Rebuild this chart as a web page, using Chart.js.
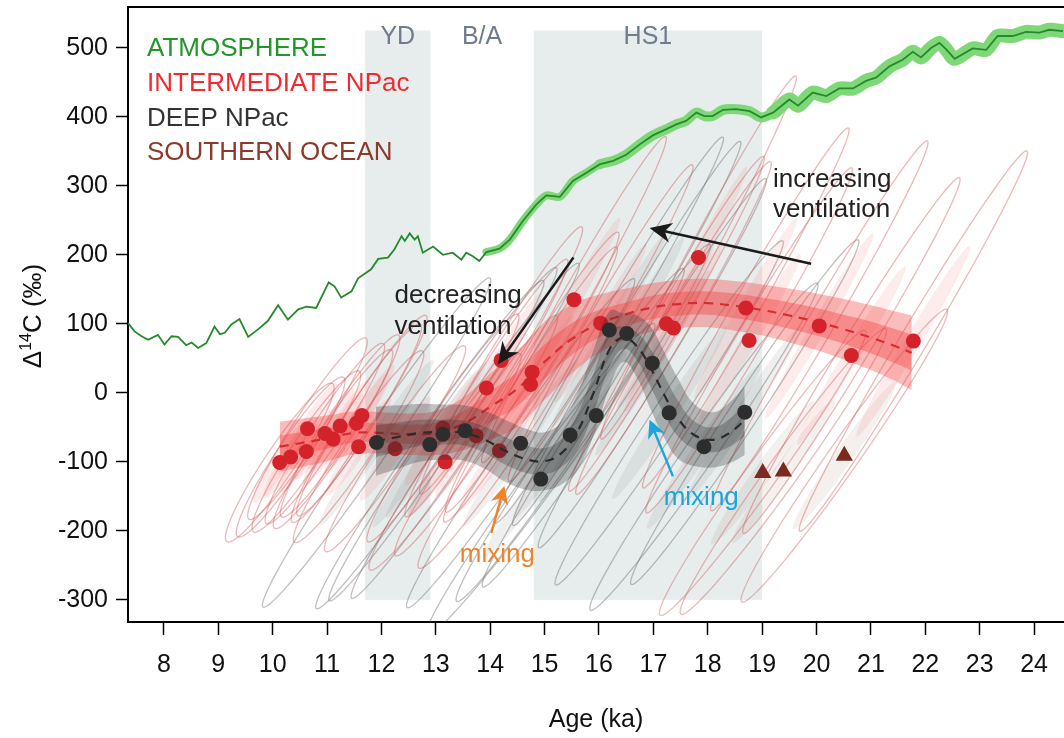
<!DOCTYPE html>
<html lang="en">
<head>
<meta charset="UTF-8">
<title>Delta 14C, atmosphere and North Pacific</title>
<script src="https://cdn.jsdelivr.net/npm/chart.js"></script>
<style>
    html, body { margin: 0; padding: 0; background: #fff; overflow: hidden; }
    canvas { display: block; }
</style>
</head>
<body>
<canvas id="d14cChart" width="1064" height="738"></canvas>
<script>
// ---- values (age in ka, D14C in permil) ----
const atmAge = [7.34, 7.46, 7.59, 7.71, 7.89, 8.01, 8.14, 8.26, 8.41, 8.51, 8.63, 8.78, 8.93, 9.03, 9.12, 9.24, 9.39, 9.55, 9.73, 9.91,
    10.10, 10.28, 10.47, 10.62, 10.80, 11.03, 11.14, 11.26, 11.45, 11.57, 11.81, 11.94, 12.12, 12.24, 12.37, 12.43, 12.52, 12.61, 12.67, 12.76,
    12.95, 13.13, 13.31, 13.47, 13.56, 13.68, 13.80, 13.93, 14.17, 14.36, 14.60, 14.85, 15.03, 15.28, 15.52, 15.77, 16.01, 16.26, 16.50, 16.75,
    16.99, 17.24, 17.42, 17.60, 17.79, 17.94, 18.09, 18.28, 18.52, 18.77, 18.98, 19.20, 19.50, 19.66, 19.93, 20.18, 20.42, 20.67, 20.91, 21.10,
    21.34, 21.59, 21.77, 21.92, 22.11, 22.26, 22.38, 22.54, 22.87, 23.12, 23.33, 23.61, 23.85, 24.10, 24.28, 24.53];
const atmD14C = [101, 89, 82, 77, 84, 70, 82, 81, 69, 73, 65, 72, 96, 85, 87, 99, 107, 81, 92, 104,
    127, 106, 121, 125, 123, 160, 154, 138, 147, 166, 179, 194, 196, 208, 227, 220, 231, 222, 227, 203,
    212, 200, 203, 193, 203, 198, 191, 204, 209, 222, 249, 273, 286, 284, 307, 319, 331, 336, 345, 360,
    373, 382, 389, 394, 406, 401, 401, 410, 411, 408, 399, 406, 425, 416, 435, 430, 441, 441, 452, 457,
    473, 483, 494, 486, 500, 507, 498, 484, 499, 497, 517, 517, 523, 522, 526, 524];

const intAge = [10.13, 10.33, 10.62, 10.64, 10.96, 11.11, 11.24, 11.54, 11.58, 11.64, 12.25, 13.13, 13.17, 13.74, 13.93,
    14.17, 14.20, 14.74, 14.77, 15.54, 16.03, 17.24, 17.37, 17.83, 18.70, 18.76, 20.05, 20.64, 21.78];
const intD14C = [-101, -93, -85, -52, -59, -67, -48, -44, -78, -33, -81, -51, -100, -62, 7,
    -84, 47, 12, 30, 135, 101, 100, 94, 196, 123, 76, 97, 54, 75];
const intAgeSd = [0.5, 0.5, 0.5, 0.55, 0.55, 0.55, 0.55, 0.6, 0.6, 0.6, 0.65, 0.7, 0.7, 0.75, 0.75,
    0.75, 0.75, 0.8, 0.8, 0.85, 0.85, 0.9, 0.9, 0.9, 0.95, 0.95, 1.0, 1.0, 1.05];

const deepAge = [11.91, 12.89, 13.13, 13.54, 14.56, 14.93, 15.47, 15.95, 16.19, 16.51, 16.98, 17.29, 17.93, 18.68];
const deepD14C = [-72, -75, -60, -55, -73, -125, -61, -33, 91, 86, 43, -29, -78, -28];
const deepAgeSd = [1.05, 1.05, 1.05, 1.05, 1.05, 1.05, 1.05, 1.05, 1.05, 1.05, 1.05, 1.05, 1.05, 1.05];

const soAge = [19.01, 19.39, 20.51];
const soD14C = [-116, -114, -91];
const soAgeSd = [0.95, 0.95, 0.95];

const intFitAge = [10.13, 10.5, 11.0, 11.5, 12.0, 12.5, 13.0, 13.5, 14.0, 14.5, 15.0, 15.5, 16.0, 16.5, 17.0, 17.5, 18.0, 18.5, 19.0, 19.5, 20.0, 20.5, 21.0, 21.5, 21.75];
const intFitMean = [-78, -73, -66, -58, -58, -60, -58, -45, -20, 6, 45, 78, 100, 114, 124, 129, 130, 126, 120, 112, 103, 92, 80, 66, 58];
const intFitOuter = [36, 35, 33, 31, 30, 30, 32, 38, 48, 55, 55, 50, 42, 37, 35, 35, 35, 36, 37, 39, 41, 44, 47, 51, 54];
const intFitInner = [16, 16, 15, 14, 14, 14, 15, 18, 22, 25, 25, 23, 20, 17, 17, 17, 17, 18, 18, 19, 20, 21, 23, 25, 26];

const deepFitAge = [11.9, 12.3, 12.7, 13.1, 13.5, 13.9, 14.3, 14.7, 15.0, 15.3, 15.6, 15.9, 16.2, 16.45, 16.7, 16.95, 17.2, 17.45, 17.75, 18.1, 18.4, 18.68];
const deepFitMean = [-70, -64, -58, -57, -58, -68, -85, -97, -99, -88, -57, 0, 64, 80, 67, 36, -3, -37, -61, -68, -58, -40];
const deepFitOuter = [50, 46, 42, 40, 40, 42, 45, 44, 42, 45, 55, 62, 55, 35, 45, 60, 62, 58, 45, 40, 44, 50];
const deepFitInner = [23, 21, 19, 18, 18, 19, 20, 20, 19, 20, 25, 28, 25, 16, 20, 27, 28, 26, 20, 18, 20, 23];

const periodLabels = ['YD', 'B/A', 'HS1'];
const periodStart = [11.7, 12.9, 14.8];
const periodEnd = [12.9, 14.8, 19.0];
const periodShaded = [true, false, true];

const xTicks = [8, 9, 10, 11, 12, 13, 14, 15, 16, 17, 18, 19, 20, 21, 22, 23, 24];
const yTicks = [-300, -200, -100, 0, 100, 200, 300, 400, 500];

const legendLabels = ['ATMOSPHERE', 'INTERMEDIATE NPac', 'DEEP NPac', 'SOUTHERN OCEAN'];
const legendColors = ['#23962a', '#ef2b2f', '#333333', '#8b3a2b'];

// annotation arrows, in data units
const arrowFromAge = [15.53, 19.90, 14.02, 17.36];
const arrowFromD = [196, 187, -203, -121];
const arrowToAge = [14.14, 16.93, 14.26, 16.93];
const arrowToD = [41, 239, -135, -39];
const arrowColors = ['#1a1a1a', '#1a1a1a', '#f0832a', '#1ba5dd'];

const FONT = '"Liberation Sans", Arial, Helvetica, sans-serif';
Chart.defaults.font.family = FONT;

const xy = (xs, ys) => xs.map((x, i) => ({ x: x, y: ys[i] }));
const edge = (xs, mid, half, sign) => xs.map((x, i) => ({ x: x, y: mid[i] + sign * half[i] }));

// tilted error ellipses: age error moves along the calibration line (slope ~ (1000+D)/8.267 per ka)
function drawEllipses(ctx, xs, ys, ages, d14c, sds, sdD, k, fill, stroke) {
    for (let j = 0; j < ages.length; j++) {
        const slope = (1000 + d14c[j]) / 8.267;
        ctx.beginPath();
        for (let i = 0; i <= 72; i++) {
            const t = i / 72 * Math.PI * 2;
            const a = ages[j] + k * sds[j] * Math.cos(t);
            const d = d14c[j] + k * (sds[j] * slope * Math.cos(t) + sdD * Math.sin(t));
            const px = xs.getPixelForValue(a), py = ys.getPixelForValue(d);
            if (i === 0) ctx.moveTo(px, py); else ctx.lineTo(px, py);
        }
        ctx.closePath();
        if (fill) { ctx.fillStyle = fill; ctx.fill(); }
        if (stroke) { ctx.strokeStyle = stroke; ctx.lineWidth = 1.3; ctx.stroke(); }
    }
}

const backdrop = {
    id: 'backdrop',
    beforeDatasetsDraw(chart) {
        const { ctx, chartArea: a, scales: { x, y } } = chart;
        ctx.save();
        ctx.beginPath();
        ctx.rect(a.left, a.top, a.right - a.left, a.bottom - a.top);
        ctx.clip();
        // climate periods
        ctx.fillStyle = '#e7eded';
        periodStart.forEach((s, i) => {
            if (!periodShaded[i]) return;
            const x0 = x.getPixelForValue(s), x1 = x.getPixelForValue(periodEnd[i]);
            const y0 = y.getPixelForValue(525), y1 = y.getPixelForValue(-300);
            ctx.fillRect(x0, y0, x1 - x0, y1 - y0);
        });
        ctx.font = '25px ' + FONT;
        ctx.fillStyle = '#6f7c8c';
        ctx.textAlign = 'center';
        ctx.textBaseline = 'alphabetic';
        periodLabels.forEach((lab, i) => {
            ctx.fillText(lab, x.getPixelForValue((periodStart[i] + periodEnd[i]) / 2), y.getPixelForValue(505));
        });
        // probability ellipses
        drawEllipses(ctx, x, y, deepAge, deepD14C, deepAgeSd, 22, 1, 'rgba(80,80,80,0.09)', null);
        drawEllipses(ctx, x, y, soAge, soD14C, soAgeSd, 22, 1, 'rgba(150,105,75,0.10)', null);
        drawEllipses(ctx, x, y, intAge, intD14C, intAgeSd, 22, 1, 'rgba(250,110,110,0.14)', null);
        drawEllipses(ctx, x, y, deepAge, deepD14C, deepAgeSd, 19, 2, null, 'rgba(105,105,105,0.42)');
        drawEllipses(ctx, x, y, soAge, soD14C, soAgeSd, 19, 2, null, 'rgba(205,95,95,0.42)');
        drawEllipses(ctx, x, y, intAge, intD14C, intAgeSd, 19, 2, null, 'rgba(210,85,85,0.42)');
        ctx.restore();
    }
};

function arrow(ctx, x0, y0, x1, y1, color, hl, hw) {
    const ang = Math.atan2(y1 - y0, x1 - x0);
    ctx.strokeStyle = color;
    ctx.lineWidth = 2.4;
    ctx.beginPath();
    ctx.moveTo(x0, y0);
    ctx.lineTo(x1 - Math.cos(ang) * hl * 0.6, y1 - Math.sin(ang) * hl * 0.6);
    ctx.stroke();
    ctx.save();
    ctx.translate(x1, y1);
    ctx.rotate(ang);
    ctx.beginPath();
    ctx.moveTo(0, 0);
    ctx.lineTo(-hl, -hw);
    ctx.lineTo(-hl * 0.7, 0);
    ctx.lineTo(-hl, hw);
    ctx.closePath();
    ctx.fillStyle = color;
    ctx.fill();
    ctx.restore();
}

const annotations = {
    id: 'annotations',
    afterDatasetsDraw(chart) {
        const { ctx, chartArea: a, scales: { x, y } } = chart;
        ctx.save();
        // top frame line
        ctx.strokeStyle = '#000';
        ctx.lineWidth = 2;
        ctx.beginPath();
        ctx.moveTo(a.left - 1, a.top);
        ctx.lineTo(a.right, a.top);
        ctx.stroke();

        arrowFromAge.forEach((s, i) => {
            const big = i < 2;
            arrow(ctx, x.getPixelForValue(s), y.getPixelForValue(arrowFromD[i]),
                x.getPixelForValue(arrowToAge[i]), y.getPixelForValue(arrowToD[i]),
                arrowColors[i], big ? 22 : 18, big ? 10 : 9);
        });

        ctx.font = '26px ' + FONT;
        ctx.textBaseline = 'middle';
        ctx.textAlign = 'left';
        ctx.fillStyle = '#222';
        ctx.fillText('decreasing', x.getPixelForValue(12.24), y.getPixelForValue(140));
        ctx.fillText('ventilation', x.getPixelForValue(12.24), y.getPixelForValue(96));
        ctx.fillText('increasing', x.getPixelForValue(19.2), y.getPixelForValue(308));
        ctx.fillText('ventilation', x.getPixelForValue(19.2), y.getPixelForValue(265));
        ctx.textAlign = 'center';
        ctx.textBaseline = 'alphabetic';
        ctx.fillStyle = '#f0832a';
        ctx.fillText('mixing', x.getPixelForValue(14.13), y.getPixelForValue(-245));
        ctx.fillStyle = '#1ba5dd';
        ctx.fillText('mixing', x.getPixelForValue(17.88), y.getPixelForValue(-162));

        // legend block
        ctx.textAlign = 'left';
        ctx.textBaseline = 'middle';
        legendLabels.forEach((lab, i) => {
            ctx.fillStyle = legendColors[i];
            ctx.fillText(lab, a.left + 19, a.top + 42 + i * 34.7);
        });

        // y title with superscript
        ctx.translate(31, 316);
        ctx.rotate(-Math.PI / 2);
        ctx.fillStyle = '#111';
        ctx.textBaseline = 'alphabetic';
        const big = '26px ' + FONT, small = '16px ' + FONT;
        ctx.font = big;
        const w1 = ctx.measureText('\u0394').width, w3 = ctx.measureText('C (\u2030)').width;
        ctx.font = small;
        const w2 = ctx.measureText('14').width;
        let cx = -(w1 + w2 + w3) / 2;
        ctx.font = big;
        ctx.fillText('\u0394', cx, 10);
        cx += w1;
        ctx.font = small;
        ctx.fillText('14', cx, 0);
        cx += w2;
        ctx.font = big;
        ctx.fillText('C (\u2030)', cx, 10);
        ctx.restore();
    }
};

const atmBandAge = atmAge.filter(a => a >= 13.9);
const atmBandD = atmD14C.filter((d, i) => atmAge[i] >= 13.9);

const datasets = [
    // atmosphere
    { data: xy(atmAge, atmD14C), borderColor: '#268a2c', borderWidth: 1.8, pointRadius: 0, tension: 0, order: 0 },
    { data: xy(atmBandAge, atmBandD), borderColor: '#7fd877', pointRadius: 0, tension: 0.3,
      borderJoinStyle: 'round', borderCapStyle: 'round', order: 1,
      segment: { borderWidth: c => c.p0.parsed.x < 16 ? 8 : (c.p0.parsed.x < 19 ? 10 : 14) } },
    // deep NPac
    { data: xy(deepAge, deepD14C), showLine: false, pointRadius: 7.5, pointHoverRadius: 7.5, backgroundColor: '#2d2d2d', borderWidth: 0, order: 2 },
    { data: xy(deepFitAge, deepFitMean), borderColor: '#2b2b2b', borderWidth: 2.2, borderDash: [9, 7], pointRadius: 0, tension: 0.4, order: 3 },
    { data: edge(deepFitAge, deepFitMean, deepFitInner, -1), borderWidth: 0, pointRadius: 0, tension: 0.4, order: 5 },
    { data: edge(deepFitAge, deepFitMean, deepFitInner, 1), borderWidth: 0, pointRadius: 0, tension: 0.4, fill: '-1', backgroundColor: 'rgba(40,40,40,0.28)', order: 4 },
    { data: edge(deepFitAge, deepFitMean, deepFitOuter, -1), borderWidth: 0, pointRadius: 0, tension: 0.4, order: 7 },
    { data: edge(deepFitAge, deepFitMean, deepFitOuter, 1), borderWidth: 0, pointRadius: 0, tension: 0.4, fill: '-1', backgroundColor: 'rgba(40,40,40,0.28)', order: 6 },
    // southern ocean
    { data: xy(soAge, soD14C), showLine: false, pointStyle: 'triangle', pointRadius: 10, pointHoverRadius: 10, backgroundColor: '#7a2a1e', borderWidth: 0, order: 8 },
    // intermediate NPac
    { data: xy(intAge, intD14C), showLine: false, pointRadius: 7.5, pointHoverRadius: 7.5, backgroundColor: '#d3222a', borderWidth: 0, order: 9 },
    { data: xy(intFitAge, intFitMean), borderColor: 'rgba(212,36,40,0.9)', borderWidth: 2.2, borderDash: [9, 7], pointRadius: 0, tension: 0.4, order: 10 },
    { data: edge(intFitAge, intFitMean, intFitInner, -1), borderWidth: 0, pointRadius: 0, tension: 0.4, order: 12 },
    { data: edge(intFitAge, intFitMean, intFitInner, 1), borderWidth: 0, pointRadius: 0, tension: 0.4, fill: '-1', backgroundColor: 'rgba(242,60,60,0.38)', order: 11 },
    { data: edge(intFitAge, intFitMean, intFitOuter, -1), borderWidth: 0, pointRadius: 0, tension: 0.4, order: 14 },
    { data: edge(intFitAge, intFitMean, intFitOuter, 1), borderWidth: 0, pointRadius: 0, tension: 0.4, fill: '-1', backgroundColor: 'rgba(245,70,70,0.36)', order: 13 }
];

const ctx = document.getElementById('d14cChart').getContext('2d');
const d14cChart = new Chart(ctx, {
    type: 'line',
    data: { datasets: datasets },
    options: {
        responsive: false,
        animation: false,
        events: [],
        layout: { autoPadding: false, padding: { top: 7, right: 0, bottom: 0, left: 0 } },
        plugins: { legend: { display: false }, tooltip: { enabled: false } },
        scales: {
            x: {
                type: 'linear',
                min: 7.34,
                max: 24.55,
                afterFit: s => { s.height = 116; s.paddingLeft = 0; s.paddingRight = 0; },
                afterBuildTicks: s => { s.ticks = xTicks.map(v => ({ value: v })); },
                grid: { drawOnChartArea: false, tickLength: 13, tickColor: '#000', tickWidth: 1.5 },
                border: { display: true, color: '#000', width: 2 },
                ticks: { color: '#111', font: { size: 25 }, padding: 15, maxRotation: 0, autoSkip: false, callback: v => String(v) },
                title: { display: true, text: 'Age (ka)', color: '#111', font: { size: 25 }, padding: { top: 0, bottom: 3 } }
            },
            y: {
                type: 'linear',
                min: -332,
                max: 559,
                afterFit: s => { s.width = 128; s.paddingTop = 0; s.paddingBottom = 0; },
                afterBuildTicks: s => { s.ticks = yTicks.map(v => ({ value: v })); },
                grid: { drawOnChartArea: false, tickLength: 12, tickColor: '#000', tickWidth: 1.5 },
                border: { display: true, color: '#000', width: 2 },
                ticks: { color: '#111', font: { size: 25 }, padding: 8, callback: v => String(v) }
            }
        }
    },
    plugins: [backdrop, annotations]
});
</script>
</body>
</html>
